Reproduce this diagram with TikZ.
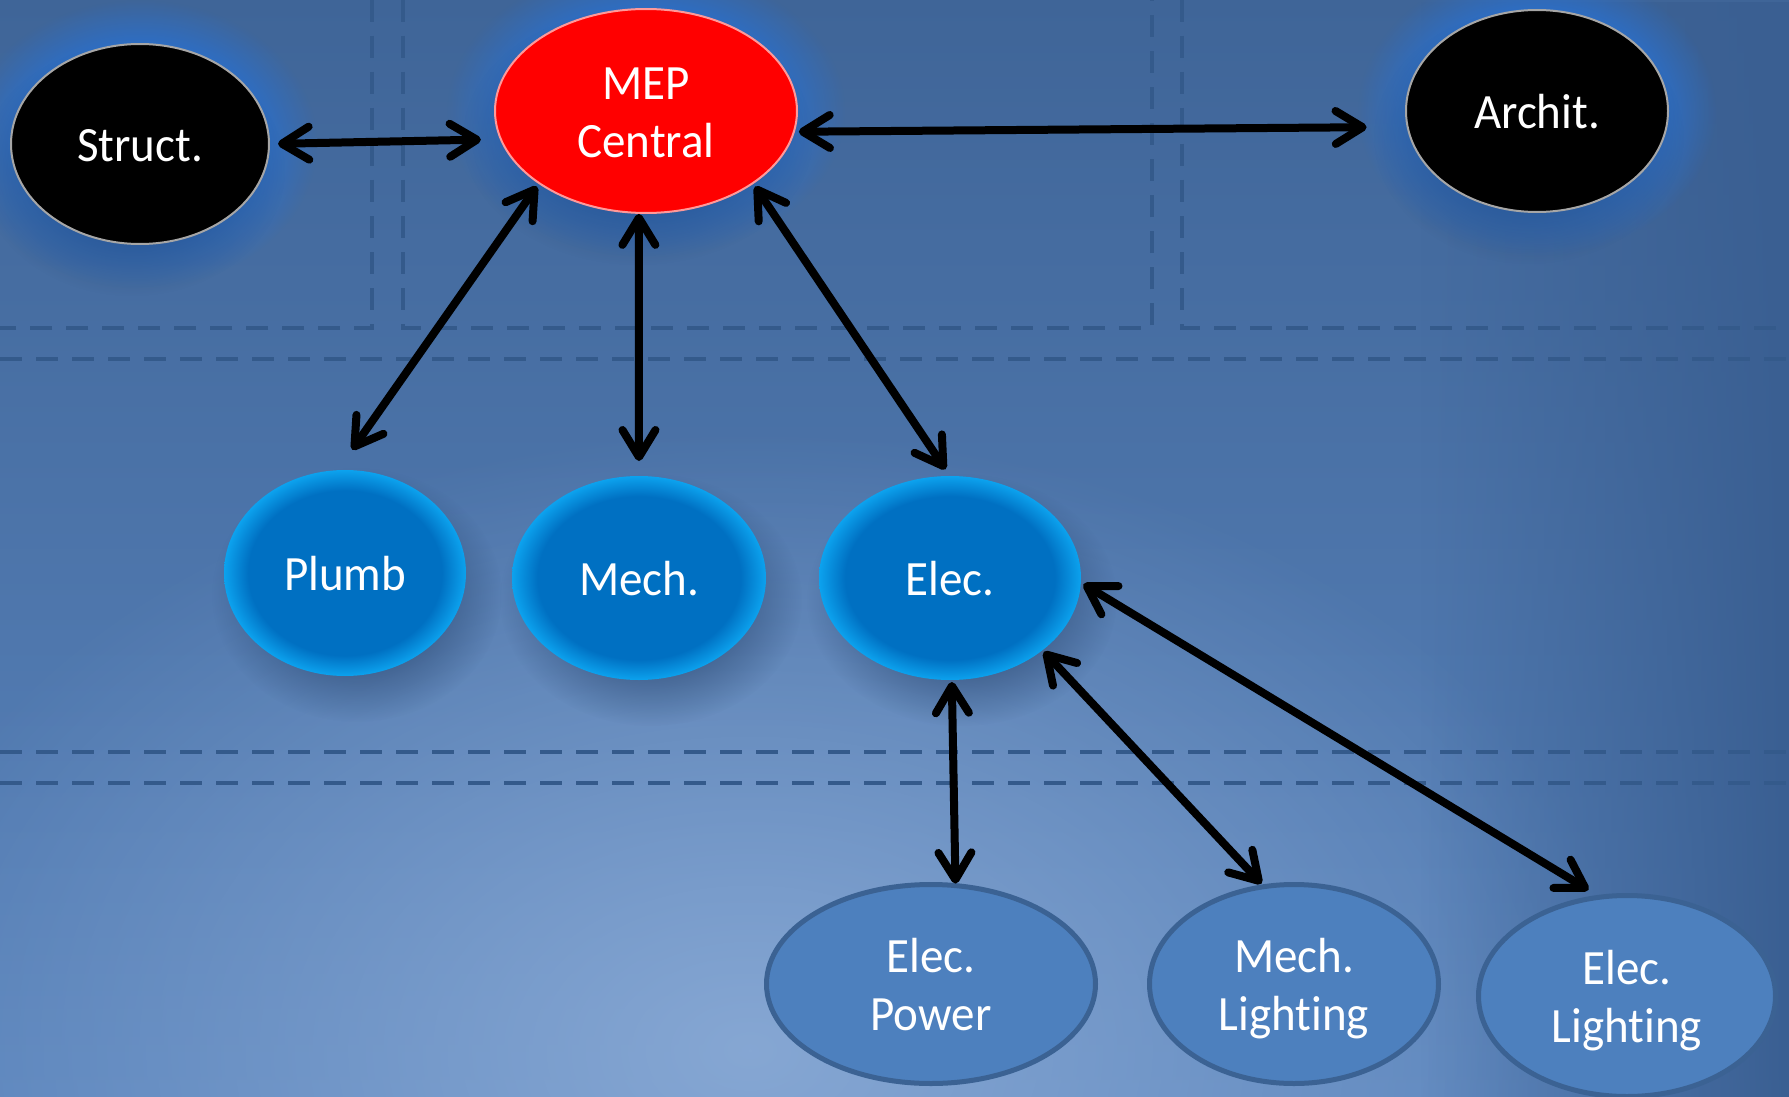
\documentclass[tikz,border=0pt]{standalone}
\usepackage{fontspec}
\setmainfont{Carlito}[Ligatures=NoCommon]
\usepackage{graphicx}
\usetikzlibrary{arrows.meta,fadings,shapes.geometric}

\definecolor{bgtop}{HTML}{3F6598}
\definecolor{bgbot}{HTML}{5A84BC}
\definecolor{bglight}{HTML}{8BABD6}
\definecolor{bgdark}{HTML}{3A5F92}
\definecolor{dashc}{HTML}{345A8B}
\definecolor{glowc}{HTML}{2D6EC5}
\definecolor{shadc}{HTML}{2C4A74}
\definecolor{bnin}{HTML}{0070C2}
\definecolor{bnout}{HTML}{0CA2EE}
\definecolor{lowfill}{HTML}{4D80BE}
\definecolor{lowedge}{HTML}{3B6293}

\pgfdeclareradialshading{glowshade}{\pgfpointorigin}{color(0bp)=(white); color(12bp)=(white); color(25bp)=(black); color(50bp)=(black)}
\pgfdeclarefading{glowfade}{\pgfuseshading{glowshade}}
\pgfdeclareradialshading{haloshade}{\pgfpointorigin}{color(0bp)=(white); color(17bp)=(white); color(25bp)=(black); color(50bp)=(black)}
\pgfdeclarefading{halofade}{\pgfuseshading{haloshade}}
\pgfdeclareradialshading{softshade}{\pgfpointorigin}{color(0bp)=(white); color(25bp)=(black); color(50bp)=(black)}
\pgfdeclarefading{softfade}{\pgfuseshading{softshade}}
\pgfdeclareradialshading{bluenode}{\pgfpointorigin}{color(0bp)=(bnin); color(20bp)=(bnin); color(25bp)=(bnout); color(50bp)=(bnout)}
\tikzfading[name=fadeR, left color=transparent!100, right color=transparent!0]

\pgfdeclarelayer{background}
\pgfsetlayers{background,main}

\newcommand{\mylbl}[1]{\raisebox{-6pt}[\height][\depth]{\scalebox{1}[1.05]{\begin{tabular}{@{}c@{}}#1\end{tabular}}}}

\begin{document}
\begin{tikzpicture}[x=1pt,y=-1pt,
  ell/.style={ellipse, inner sep=0pt, outer sep=0pt, text=white, font=\fontsize{47}{55}\selectfont},
  topblack/.style={ell, fill=black, draw=gray!70, line width=2pt},
  rednode/.style={ell, fill=red, draw=red!40!white, line width=2pt},
  bluenode/.style={ell, shading=bluenode},
  lownode/.style={ell, fill=lowfill, draw=lowedge, line width=5pt},
  link/.style={line width=8pt, black, >={Straight Barb[length=27pt,width=33pt,line cap=round,line join=round]}, <->},
  dashline/.style={dashc, line width=4pt, dash pattern=on 22pt off 14pt}
]
\useasboundingbox (0,0) rectangle (1789,1097);

% nodes
\node[topblack, minimum width=258pt, minimum height=200pt] (struct) at (140,144) {\mylbl{Struct.}};
\node[rednode, minimum width=302pt, minimum height=204pt] (mep) at (646,111) {\mylbl{MEP\\Central}};
\node[topblack, minimum width=262pt, minimum height=202pt] (archit) at (1537,111) {\mylbl{Archit.}};
\node[bluenode, minimum width=242pt, minimum height=206pt] (plumb) at (345,573) {\mylbl{Plumb}};
\node[bluenode, minimum width=254pt, minimum height=204pt] (mech) at (639,578) {\mylbl{Mech.}};
\node[bluenode, minimum width=262pt, minimum height=204pt] (elec) at (950,578) {\mylbl{Elec.}};
\node[lownode, minimum width=329pt, minimum height=199pt] (epow) at (931,984) {\mylbl{Elec.\\Power}};
\node[lownode, minimum width=289pt, minimum height=199pt] (mlight) at (1294,984) {\mylbl{Mech.\\Lighting}};
\node[lownode, minimum width=297pt, minimum height=201pt] (elight) at (1627,996) {\mylbl{Elec.\\Lighting}};

% connectors
\draw[link, shorten <=9pt, shorten >=20pt] (struct.0) -- (mep.191);
\draw[link, shorten <=5pt, shorten >=41pt] (mep.-8) -- (archit.187);
\draw[link, shorten <=4pt, shorten >=25pt] (mep.214) -- (plumb.94);
\draw[link, shorten <=1pt, shorten >=15pt] (mep.266) -- (mech.90);
\draw[link, shorten <=4pt, shorten >=8pt] (mep.-34) -- (elec.90);
\draw[link, shorten <=2pt, shorten >=2pt] (elec.-89) -- (epow.76);
\draw[link, shorten <=2pt, shorten >=4pt] (elec.-38) -- (mlight.107);
\draw[link, shorten <=3pt, shorten >=14pt] (elec.-2) -- (elight.105);

\begin{pgfonlayer}{background}
  % backdrop
  \shade[top color=bgtop, bottom color=bgbot] (0,0) rectangle (1789,1097);
  \fill[bglight, opacity=.9, path fading=softfade] (750,1050) ellipse [x radius=900pt, y radius=620pt];
  \fill[bgdark, path fading=fadeR] (1420,0) rectangle (1789,1097);
  % dashed frame lines
  \draw[dashline] (372,0) -- (372,328) -- (0,328);
  \draw[dashline] (403,0) -- (403,328) -- (1152,328) -- (1152,0);
  \draw[dashline] (1182,0) -- (1182,328) -- (1789,328);
  \draw[dashline] (0,359) -- (1789,359);
  \draw[dashline] (0,752) -- (1789,752);
  \draw[dashline] (0,783) -- (1789,783);
  % glows and shadows of top nodes
  \foreach \n/\rx/\ry in {struct/129/100, mep/151/102, archit/131/101} {
    \fill[glowc, path fading=halofade] (\n.center) ellipse [x radius=\rx pt+48pt, y radius=\ry pt+44pt];
    \fill[shadc, opacity=.6, path fading=glowfade] ([xshift=-8pt,yshift=-26pt]\n.center) ellipse [x radius=\rx pt+24pt, y radius=\ry pt+26pt];
  }
  % drop shadows of middle nodes
  \foreach \n/\rx/\ry in {plumb/121/103, mech/127/102, elec/131/102} {
    \fill[shadc, opacity=.7, path fading=glowfade] ([xshift=12pt,yshift=-22pt]\n.center) ellipse [x radius=\rx pt+24pt, y radius=\ry pt+24pt];
  }
\end{pgfonlayer}
\end{tikzpicture}
\end{document}
